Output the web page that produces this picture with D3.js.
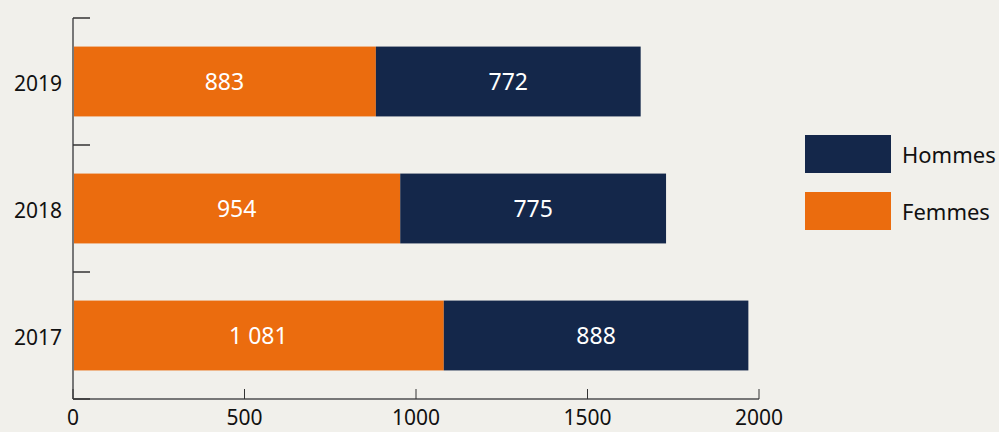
<!DOCTYPE html>
<html><head><meta charset="utf-8">
<script src="https://cdn.jsdelivr.net/npm/d3@7"></script>
<style>body{margin:0;background:#F1F0EB;}svg{display:block;font-family:"Source Sans Pro","Noto Sans",sans-serif;}</style>
</head><body><svg id="c" width="999" height="432"></svg>
<script>
const years = ["2019","2018","2017"];
const femmes = [883, 954, 1081];
const hommes = [772, 775, 888];
const xTicks = [0, 500, 1000, 1500, 2000];
const seriesNames = ["Hommes","Femmes"];
const colors = {Femmes:"#EB6C0E", Hommes:"#14274A"};

const svg = d3.select("#c");
svg.append("rect").attr("width",999).attr("height",432).attr("fill","#F1F0EB");
const x = d3.scaleLinear().domain([0,2000]).range([73,759]);
const y = d3.scaleBand().domain(years).range([18,399]).paddingInner(0.45).paddingOuter(0.225);
const fmt = v => d3.format(",")(v).replace(/,/g," ");

const rows = years.map((yr,i)=>({yr, f:femmes[i], h:hommes[i]}));
const g = svg.append("g");
g.selectAll(".f").data(rows).join("rect").attr("x",x(0)).attr("y",d=>y(d.yr)).attr("width",d=>x(d.f)-x(0)).attr("height",y.bandwidth()).attr("fill",colors.Femmes);
g.selectAll(".h").data(rows).join("rect").attr("x",d=>x(d.f)).attr("y",d=>y(d.yr)).attr("width",d=>x(d.f+d.h)-x(d.f)).attr("height",y.bandwidth()).attr("fill",colors.Hommes);
g.selectAll(".fl").data(rows).join("text").attr("x",d=>(x(0)+x(d.f))/2).attr("y",d=>y(d.yr)+y.bandwidth()/2).attr("dy","0.38em").attr("text-anchor","middle").attr("fill","#fff").attr("font-size",23).text(d=>fmt(d.f));
g.selectAll(".hl").data(rows).join("text").attr("x",d=>(x(d.f)+x(d.f+d.h))/2).attr("y",d=>y(d.yr)+y.bandwidth()/2).attr("dy","0.38em").attr("text-anchor","middle").attr("fill","#fff").attr("font-size",23).text(d=>fmt(d.h));

// axes
const axisColor = "#777";
svg.append("line").attr("x1",x(0)).attr("x2",x(0)).attr("y1",18).attr("y2",399).attr("stroke",axisColor).attr("stroke-width",2);
svg.append("line").attr("x1",x(0)).attr("x2",x(2000)).attr("y1",399).attr("y2",399).attr("stroke",axisColor).attr("stroke-width",2);
const step = y.step();
const edges = years.map((yr,i) => 18 + i*step);
edges.push(399);
svg.selectAll(".yt").data(edges).join("line").attr("x1",x(0)).attr("x2",x(0)+17).attr("y1",d=>d).attr("y2",d=>d).attr("stroke","#333").attr("stroke-width",1.5);
svg.selectAll(".xt").data(xTicks).join("line").attr("x1",d=>x(d)).attr("x2",d=>x(d)).attr("y1",389).attr("y2",399).attr("stroke","#333").attr("stroke-width",1);
svg.selectAll(".xl").data(xTicks).join("text").attr("x",d=>x(d)).attr("y",425).attr("text-anchor","middle").attr("font-size",21).attr("fill","#111").text(d=>d);
svg.selectAll(".yl").data(years).join("text").attr("x",62).attr("y",d=>y(d)+y.bandwidth()/2).attr("dy","0.45em").attr("text-anchor","end").attr("font-size",21).attr("fill","#111").text(d=>d);

// legend
const leg = svg.selectAll(".lg").data(seriesNames).join("g").attr("transform",(d,i)=>`translate(805,${135+i*57})`);
leg.append("rect").attr("width",86).attr("height",38).attr("fill",d=>colors[d]);
leg.append("text").attr("x",97).attr("y",19).attr("dy","0.4em").attr("font-size",22).attr("fill","#111").text(d=>d);
</script></body></html>
